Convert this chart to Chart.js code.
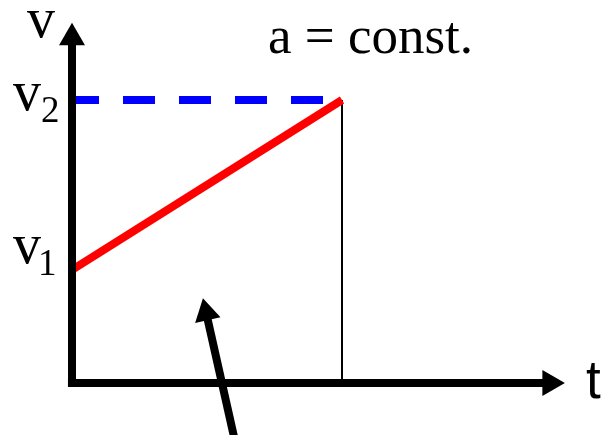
<!DOCTYPE html>
<html>
<head>
<meta charset="utf-8">
<script src="https://cdn.jsdelivr.net/npm/chart.js@4"></script>
<style>
  body { margin: 0; background: #fff; }
  #wrap { width: 603px; height: 435px; }
</style>
</head>
<body>
<div id="wrap"><canvas id="myChart"></canvas></div>
<script>
// values (arbitrary units)
var times = [0, 1];            // start time, end time t1
var speeds = [2, 5];           // v1 at start, v2 at t1
var subscripts = ['1', '2'];   // v1, v2
var axisEnd = [1.77, 6.1];     // arrow heads of t axis and v axis
var pointerT = [0.6, 0.497];   // the arrow pointing at the area under the line
var pointerV = [-0.95, 1.24];

function pts(xs, ys) {
    return xs.map(function (x, i) { return { x: x, y: ys[i] }; });
}

var labels = {
    id: 'labels',
    afterDraw: function (chart) {
        var c = chart.ctx, x = chart.scales.x, y = chart.scales.y;
        var x0 = x.getPixelForValue(0);
        c.save();
        c.fillStyle = '#000';
        c.textBaseline = 'alphabetic';
        c.font = '56px "Liberation Serif"';
        c.fillText('v', x0 - 45, y.getPixelForValue(axisEnd[1]) - 1);
        c.fillText('v', x0 - 59, y.getPixelForValue(speeds[1]) + 10);
        c.fillText('v', x0 - 59, y.getPixelForValue(speeds[0]) - 7);
        c.font = '53px "Liberation Serif"';
        c.fillText('a = const.', 268, 53);
        c.font = '37px "Liberation Serif"';
        c.fillText(subscripts[1], x0 - 31, y.getPixelForValue(speeds[1]) + 22);
        c.fillText(subscripts[0], x0 - 34, y.getPixelForValue(speeds[0]) + 5);
        c.font = '53px "Liberation Sans"';
        c.fillText('t', 586, y.getPixelForValue(0) + 15);
        c.restore();
    }
};

var ctx = document.getElementById('myChart').getContext('2d');
var myChart = new Chart(ctx, {
    type: 'scatter',
    data: {
        datasets: [
            {   // v axis
                data: pts([0, 0], [-0.07, axisEnd[1]]),
                borderColor: '#000', backgroundColor: '#000', borderWidth: 8,
                pointRadius: [0, 15], pointStyle: 'triangle', pointRotation: 0, pointBorderWidth: 0
            },
            {   // t axis
                data: pts([-0.015, axisEnd[0]], [0, 0]),
                borderColor: '#000', backgroundColor: '#000', borderWidth: 8,
                pointRadius: [0, 15], pointStyle: 'triangle', pointRotation: 90, pointBorderWidth: 0
            },
            {   // pointer arrow
                data: pts(pointerT, pointerV),
                borderColor: '#000', backgroundColor: '#000', borderWidth: 8,
                pointRadius: [0, 15], pointStyle: 'triangle', pointRotation: -12.5, pointBorderWidth: 0
            },
            {   // v(t)
                data: pts(times, speeds),
                borderColor: '#ff0000', borderWidth: 8, pointRadius: 0
            },
            {   // v2 guide
                data: pts(times, [speeds[1], speeds[1]]),
                borderColor: '#0000ff', borderWidth: 8, pointRadius: 0,
                borderDash: [32, 24], borderDashOffset: 5
            },
            {   // t1 guide
                data: pts([times[1], times[1]], [0, speeds[1]]),
                borderColor: '#000', borderWidth: 2, pointRadius: 0
            }
        ]
    },
    options: {
        responsive: true,
        maintainAspectRatio: false,
        animation: false,
        showLine: true,
        clip: false,
        layout: { padding: 0, autoPadding: false },
        plugins: {
            legend: { display: false },
            tooltip: { enabled: false }
        },
        scales: {
            x: { type: 'linear', display: false, min: -72 / 270, max: 531 / 270 },
            y: { type: 'linear', display: false, min: -52 / 56.6, max: 383 / 56.6 }
        }
    },
    plugins: [labels]
});
</script>
</body>
</html>
